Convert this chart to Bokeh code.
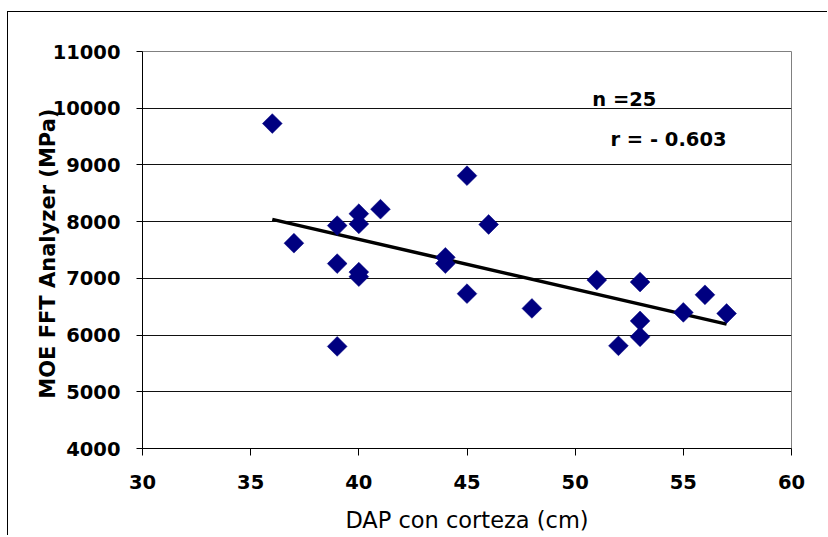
import numpy as np
from bokeh.plotting import figure
from bokeh.models import Range1d, FixedTicker, Label
from bokeh.embed import file_html
from bokeh.resources import INLINE

# Data
dap_cm = [36, 37, 39, 39, 39, 40, 40, 40, 40, 41, 44, 44, 45, 45, 46,
          48, 51, 52, 53, 53, 53, 55, 56, 57]
moe_mpa = [9730, 7620, 7930, 7260, 5800, 8140, 7960, 7110, 7030, 8220,
           7370, 7260, 8810, 6730, 7950, 6470, 6970, 5810, 6935, 6250,
           5970, 6400, 6710, 6380]
x_ticks = [30, 35, 40, 45, 50, 55, 60]
y_ticks = [4000, 5000, 6000, 7000, 8000, 9000, 10000, 11000]
n_text = "n =25"
r_text = "r =  - 0.603"
x_title = "DAP con corteza (cm)"
y_title = "MOE FFT Analyzer  (MPa)"

FONT = "DejaVu Sans"

p = figure(width=820, height=524,
           x_range=Range1d(30, 60), y_range=Range1d(4000, 11000),
           output_backend="svg", toolbar_location=None,
           min_border_left=134, min_border_right=37,
           min_border_top=39, min_border_bottom=88)
p.styles = {"border-left": "1px solid #000", "border-top": "1px solid #000",
            "margin-top": "11px", "margin-left": "7px"}

p.background_fill_color = "white"
p.border_fill_color = "white"
p.outline_line_color = "#808080"
p.outline_line_width = 1

# grid
p.xgrid.grid_line_color = None
p.ygrid.grid_line_color = "#111111"
p.ygrid.grid_line_width = 1
p.ygrid.ticker = FixedTicker(ticks=y_ticks)

# axes
p.xaxis.ticker = FixedTicker(ticks=x_ticks)
p.yaxis.ticker = FixedTicker(ticks=y_ticks)
for ax in (p.xaxis, p.yaxis):
    ax.axis_line_color = "black"
    ax.axis_line_width = 1
    ax.major_tick_line_color = "black"
    ax.minor_tick_line_color = None
    ax.major_tick_in = 0
    ax.major_label_text_font = FONT
    ax.major_label_text_font_style = "bold"
    ax.major_label_text_font_size = "19.5px"
    ax.major_label_text_color = "black"
    ax.axis_label_text_font = FONT
    ax.axis_label_text_color = "black"

p.xaxis.major_tick_out = 7
p.yaxis.major_tick_out = 6
p.xaxis.major_label_standoff = 19
p.yaxis.major_label_standoff = 16

p.xaxis.axis_label = x_title
p.xaxis.axis_label_text_font_style = "normal"
p.xaxis.axis_label_text_font_size = "22.5px"
p.xaxis.axis_label_standoff = 15

p.yaxis.axis_label = y_title
p.yaxis.axis_label_text_font_style = "bold"
p.yaxis.axis_label_text_font_size = "21px"
p.yaxis.axis_label_standoff = -10

# trend line (least squares fit of the data)
xs = np.array(dap_cm, dtype=float)
ys = np.array(moe_mpa, dtype=float)
slope, intercept = np.polyfit(xs, ys, 1)
x_line = [xs.min(), xs.max()]
y_line = [slope * v + intercept for v in x_line]
p.line(x_line, y_line, line_color="black", line_width=3.5)

# points: diamonds (rotated squares)
p.scatter(dap_cm, moe_mpa, marker="square", angle=np.pi / 4, size=14,
          fill_color="#000080", line_color="#000080", line_width=0.5)

p.add_layout(Label(x=50.79, y=10150, text=n_text, text_font=FONT,
                   text_font_style="bold", text_font_size="19.5px",
                   text_color="black", text_baseline="middle"))
p.add_layout(Label(x=51.63, y=9445, text=r_text, text_font=FONT,
                   text_font_style="bold", text_font_size="19.5px",
                   text_color="black", text_baseline="middle"))

open("out.html", "w").write(file_html(p, INLINE))
